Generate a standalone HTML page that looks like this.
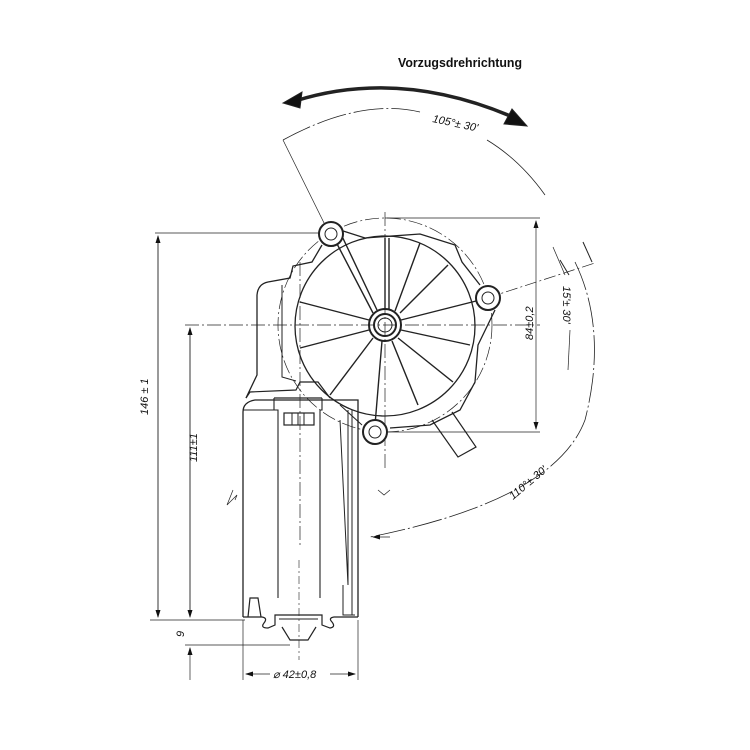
<!DOCTYPE html>
<html><head><meta charset="utf-8"><style>
html,body{margin:0;padding:0;background:#fff;width:750px;height:750px;overflow:hidden}
svg{display:block}
text{font-family:"Liberation Sans",sans-serif;fill:#111}
</style></head><body>
<svg width="750" height="750" viewBox="0 0 750 750" xmlns="http://www.w3.org/2000/svg">
<defs>
<marker id="ah" markerWidth="8" markerHeight="8" refX="7" refY="4" orient="auto" markerUnits="userSpaceOnUse"><path d="M0,1.5 L8,4 L0,6.5Z" fill="#111"/></marker>
</defs>
<g fill="none" stroke="#222" stroke-width="1">
<path d="M295,101 Q400,68 515,118" stroke-width="3.5"/>
<path d="M283,103 L302,92 L300,108Z" fill="#111"/>
<path d="M527,126 L504,124 L512,109Z" fill="#111"/>
<path d="M283,140 Q360,98 420,112" stroke-width="0.8" stroke-dasharray="30,3,2,3"/>
<path d="M487,140 Q520,160 545,195" stroke-width="0.8"/>
<path d="M283,140 L330,235" stroke-width="0.7"/>
<path d="M575,262 Q608,330 585,420 Q555,500 370,537" stroke-width="0.8" stroke-dasharray="30,3,2,3"/>
<path d="M583,242 L592,262" stroke-width="1"/>
<path d="M560,260 L569,275" stroke-width="1"/>
<path d="M487,298 L595,263" stroke-width="0.7" stroke-dasharray="12,3,2,3"/>
<path d="M553,247 L565,275" stroke-width="0.7"/>
<path d="M570,330 L568,370" stroke-width="0.7"/>
<circle cx="385" cy="325" r="107" stroke-width="0.7" stroke-dasharray="14,3,2,3"/>
<path d="M185,325 L540,325" stroke-width="0.7" stroke-dasharray="14,3,2,3"/>
<path d="M385,212 L385,470" stroke-width="0.7" stroke-dasharray="14,3,2,3"/>
<path d="M300,262 L300,545" stroke-width="0.7" stroke-dasharray="14,3,2,3"/>
<path d="M155,233 L330,233" stroke-width="0.7"/>
<path d="M385,218 L540,218" stroke-width="0.7"/>
<path d="M380,432 L540,432" stroke-width="0.7"/>
<path d="M150,620 L245,620" stroke-width="0.7"/>
<path d="M185,645 L290,645" stroke-width="0.7"/>
<path d="M243,620 L243,680" stroke-width="0.7"/>
<path d="M358,620 L358,680" stroke-width="0.7"/>
<path d="M158,238 L158,617" stroke-width="0.7" marker-end="url(#ah)"/>
<path d="M158,610 L158,236" stroke-width="0.7" marker-end="url(#ah)"/>
<path d="M190,330 L190,617" stroke-width="0.7" marker-end="url(#ah)"/>
<path d="M190,610 L190,328" stroke-width="0.7" marker-end="url(#ah)"/>
<path d="M190,680 L190,648" stroke-width="0.7" marker-end="url(#ah)"/>
<path d="M536,228 L536,221" stroke-width="0.7" marker-end="url(#ah)"/>
<path d="M536,225 L536,429" stroke-width="0.7" marker-end="url(#ah)"/>
<path d="M270,674 L246,674" stroke-width="0.7" marker-end="url(#ah)"/>
<path d="M330,674 L355,674" stroke-width="0.7" marker-end="url(#ah)"/>
<path d="M390,537 L373,537" stroke-width="0.7" marker-end="url(#ah)"/>
<path d="M246,398 L257,375 L257,295 Q258,284 268,282 L290,278 L293,266 L312,262 L322,245" stroke-width="1.3"/>
<path d="M282,285 L282,377 L296,381" stroke-width="1"/>
<path d="M246,398 L250,392 L296,390 L300,382 L318,382 L330,398" stroke-width="1.2"/>
<path d="M340,230 L365,238 L420,234 L455,245 L462,262 L480,285" stroke-width="1.3"/>
<path d="M495,310 L478,345 L475,382 L460,410 L430,425 L390,428" stroke-width="1.3"/>
<path d="M362,425 L340,405" stroke-width="1"/>
<path d="M432,420 L458,457 L476,447 L452,412" stroke-width="1.2"/>
<circle cx="385" cy="326" r="90" stroke-width="1.3"/>
<g stroke-width="1.4">
<path d="M385,310 L385,238"/><path d="M389,310 L389,238"/>
<path d="M395,311 L420,243"/><path d="M400,313 L448,265"/>
<path d="M401,320 L480,300"/><path d="M401,330 L470,345"/>
<path d="M398,338 L453,382"/><path d="M392,341 L418,405"/>
<path d="M382,341 L375,425"/><path d="M373,338 L330,395"/>
<path d="M369,330 L300,348"/><path d="M369,320 L300,302"/>
<path d="M373,313 L335,240"/><path d="M377,310 L340,232"/>
</g>
<circle cx="385" cy="325" r="16" stroke-width="2"/>
<circle cx="385" cy="325" r="11" stroke-width="2"/>
<circle cx="385" cy="325" r="7" stroke-width="1"/>
<circle cx="331" cy="234" r="12" stroke-width="2" fill="#fff"/><circle cx="331" cy="234" r="6"/>
<circle cx="488" cy="298" r="12" stroke-width="2" fill="#fff"/><circle cx="488" cy="298" r="6"/>
<circle cx="375" cy="432" r="12" stroke-width="2" fill="#fff"/><circle cx="375" cy="432" r="6"/>
<path d="M243,617 L243,412 Q243,402 255,400 L358,400 L358,617" stroke-width="1.3"/>
<path d="M243,410 L275,410" stroke-width="1"/>
<path d="M274,398 L274,410 L278,410 L278,598" stroke-width="1.1"/>
<path d="M322,398 L322,410 L320,410 L320,598" stroke-width="1.1"/>
<path d="M274,398 L322,398" stroke-width="1.2"/>
<rect x="284" y="413" width="30" height="12" stroke-width="1.2"/>
<path d="M292,413 L292,425 M298,413 L298,425 M304,413 L304,425"/>
<path d="M348,410 L348,585 M352,410 L352,615 M340,420 L348,585" stroke-width="1"/>
<path d="M343,585 L343,615 L355,615" stroke-width="1"/>
<path d="M243,617 L262,617 Q268,618 264,623 Q260,628 268,628 L275,625 L275,615 L322,615 L322,625 L330,628 Q336,627 332,622 Q328,618 334,617 L358,617" stroke-width="1.2"/>
<path d="M279,619 L318,619" stroke-width="1"/>
<path d="M282,627 L290,640 L308,640 L316,627" stroke-width="1.2"/>
<path d="M248,617 L250,598 L258,598 L261,617" stroke-width="1.2"/>
<path d="M299,560 L299,660" stroke-width="0.6" stroke-dasharray="8,3,2,3"/>
<path d="M233,490 L227,505 L237,495 L235,500" stroke-width="0.7"/>
<path d="M378,490 L384,495 L390,490" stroke-width="0.7"/>
</g>
<text x="398" y="67" font-size="13" font-weight="bold" textLength="124" lengthAdjust="spacingAndGlyphs">Vorzugsdrehrichtung</text>
<text x="0" y="0" font-size="11" font-style="italic" transform="translate(432,122) rotate(12)">105°± 30'</text>
<text x="0" y="0" font-size="11" font-style="italic" transform="translate(148,415) rotate(-90)">146 ± 1</text>
<text x="0" y="0" font-size="11" font-style="italic" transform="translate(197,462) rotate(-90)">111±1</text>
<text x="0" y="0" font-size="11" font-style="italic" transform="translate(184,637) rotate(-90)">9</text>
<text x="0" y="0" font-size="11" font-style="italic" transform="translate(533,340) rotate(-90)">84±0,2</text>
<text x="0" y="0" font-size="11" font-style="italic" transform="translate(563,286) rotate(90)">15'± 30'</text>
<text x="0" y="0" font-size="11" font-style="italic" transform="translate(513,500) rotate(-40)">110°± 30'</text>
<text x="273" y="678" font-size="11" font-style="italic">⌀ 42±0,8</text>
</svg>
</body></html>
